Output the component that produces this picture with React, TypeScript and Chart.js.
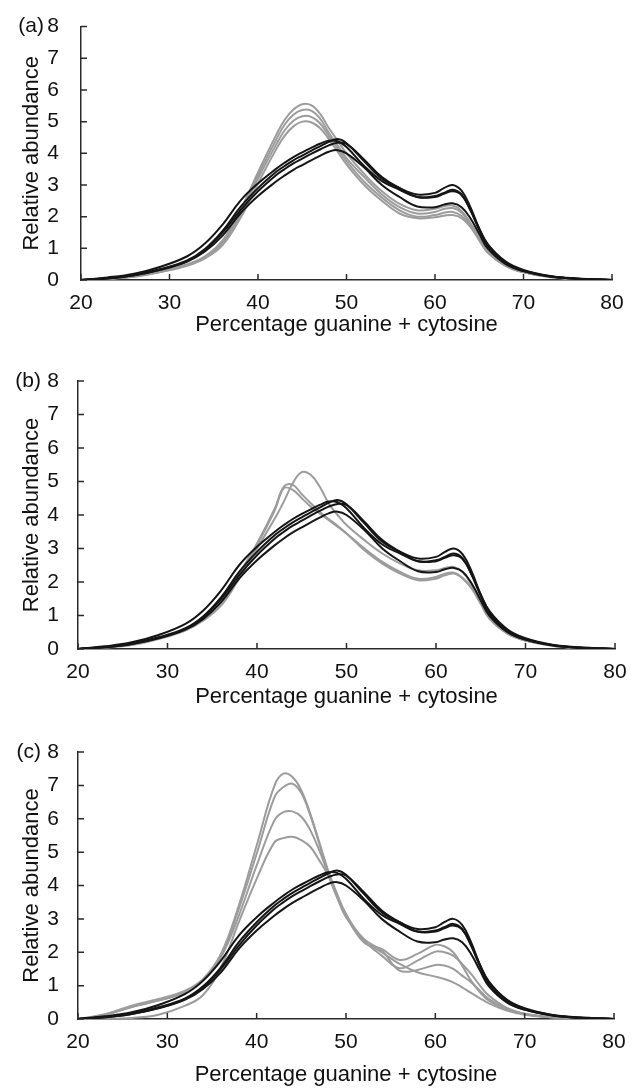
import React, { useEffect, useRef } from 'react';
import { Chart, registerables } from 'chart.js';

Chart.register(...registerables);

// % G+C sampling positions shared by all profiles
const gcPercent = [20, 23, 26, 29, 32, 34, 36, 38, 40, 42, 43, 44, 45, 46, 47, 48, 49, 50, 52, 54, 56, 58, 60, 61, 62, 63, 64, 65, 66, 68, 70, 73, 76, 80];

// Control profiles (black), same in all panels
const control1 = [0, 0.06, 0.17, 0.35, 0.62, 0.98, 1.55, 2.3, 2.9, 3.4, 3.6, 3.78, 3.93, 4.08, 4.22, 4.36, 4.45, 4.32, 3.75, 3.2, 2.9, 2.7, 2.75, 2.9, 3.0, 2.82, 2.3, 1.62, 1.1, 0.55, 0.3, 0.12, 0.04, 0];
const control2 = [0, 0.08, 0.2, 0.42, 0.75, 1.15, 1.75, 2.5, 3.05, 3.5, 3.7, 3.88, 4.03, 4.17, 4.3, 4.4, 4.38, 4.2, 3.6, 3.12, 2.85, 2.62, 2.65, 2.75, 2.85, 2.7, 2.2, 1.58, 1.05, 0.52, 0.28, 0.11, 0.04, 0];
const control3 = [0, 0.05, 0.15, 0.33, 0.6, 0.95, 1.5, 2.2, 2.8, 3.3, 3.5, 3.68, 3.83, 3.98, 4.12, 4.25, 4.33, 4.3, 3.8, 3.25, 2.9, 2.62, 2.62, 2.72, 2.8, 2.68, 2.22, 1.62, 1.12, 0.58, 0.32, 0.13, 0.05, 0];
const control4 = [0, 0.05, 0.15, 0.32, 0.58, 0.9, 1.4, 2.1, 2.65, 3.1, 3.3, 3.48, 3.63, 3.78, 3.92, 4.05, 4.1, 4.0, 3.55, 3.0, 2.62, 2.32, 2.3, 2.38, 2.42, 2.3, 1.95, 1.45, 0.98, 0.5, 0.28, 0.11, 0.04, 0];

// Panel (a) treatment profiles (grey)
const dietA1 = [0, 0.04, 0.12, 0.28, 0.5, 0.75, 1.25, 2.2, 3.4, 4.55, 5.05, 5.38, 5.55, 5.52, 5.25, 4.8, 4.4, 4.0, 3.35, 2.8, 2.4, 2.2, 2.25, 2.33, 2.35, 2.18, 1.8, 1.32, 0.9, 0.47, 0.26, 0.1, 0.03, 0];
const dietA2 = [0, 0.04, 0.12, 0.27, 0.48, 0.72, 1.2, 2.1, 3.3, 4.4, 4.9, 5.22, 5.37, 5.35, 5.1, 4.65, 4.25, 3.85, 3.25, 2.7, 2.3, 2.1, 2.15, 2.24, 2.27, 2.12, 1.76, 1.3, 0.88, 0.46, 0.25, 0.1, 0.03, 0];
const dietA3 = [0, 0.04, 0.11, 0.26, 0.47, 0.7, 1.15, 2.05, 3.2, 4.25, 4.72, 5.03, 5.17, 5.15, 4.95, 4.55, 4.15, 3.75, 3.1, 2.6, 2.2, 2.0, 2.05, 2.12, 2.15, 2.02, 1.72, 1.28, 0.86, 0.45, 0.25, 0.1, 0.03, 0];
const dietA4 = [0, 0.03, 0.1, 0.25, 0.45, 0.68, 1.1, 1.95, 3.05, 4.1, 4.55, 4.85, 5.0, 4.98, 4.8, 4.45, 4.05, 3.65, 3.0, 2.5, 2.1, 1.95, 1.98, 2.03, 2.05, 1.95, 1.68, 1.25, 0.85, 0.44, 0.24, 0.09, 0.03, 0];

// Panel (b) treatment profiles (grey)
const dietB1 = [0, 0.04, 0.12, 0.3, 0.55, 0.85, 1.3, 2.1, 3.0, 3.9, 4.4, 4.95, 5.28, 5.2, 4.85, 4.35, 4.0, 3.7, 3.25, 2.85, 2.55, 2.35, 2.35, 2.42, 2.45, 2.3, 1.9, 1.4, 0.95, 0.48, 0.26, 0.1, 0.03, 0];
const dietB2 = [0, 0.05, 0.15, 0.33, 0.6, 0.95, 1.45, 2.25, 3.15, 4.2, 4.85, 4.9, 4.62, 4.35, 4.1, 3.88, 3.68, 3.45, 2.95, 2.55, 2.25, 2.05, 2.1, 2.2, 2.25, 2.1, 1.8, 1.35, 0.9, 0.46, 0.25, 0.1, 0.03, 0];
const dietB3 = [0, 0.05, 0.14, 0.32, 0.58, 0.92, 1.4, 2.2, 3.1, 4.15, 4.8, 4.75, 4.5, 4.25, 4.05, 3.85, 3.65, 3.45, 3.0, 2.6, 2.3, 2.1, 2.15, 2.25, 2.28, 2.12, 1.82, 1.36, 0.9, 0.46, 0.25, 0.1, 0.03, 0];

// Panel (c) treatment profiles (grey)
const dietC1 = [0, 0.14, 0.4, 0.6, 0.85, 1.2, 1.95, 3.4, 5.2, 7.0, 7.35, 7.25, 6.85, 6.15, 5.3, 4.45, 3.75, 3.15, 2.35, 2.0, 1.65, 1.4, 1.27, 1.2, 1.1, 0.95, 0.78, 0.62, 0.47, 0.25, 0.13, 0.05, 0.02, 0];
const dietC2 = [0, 0.12, 0.36, 0.56, 0.8, 1.15, 1.9, 3.3, 4.95, 6.65, 6.95, 7.05, 6.77, 6.1, 5.26, 4.4, 3.7, 3.1, 2.4, 2.05, 1.45, 1.47, 1.62, 1.6, 1.5, 1.3, 1.1, 0.85, 0.6, 0.3, 0.15, 0.05, 0.02, 0];
const dietC3 = [0, 0.12, 0.36, 0.55, 0.8, 1.15, 1.85, 3.1, 4.6, 5.96, 6.2, 6.22, 6.06, 5.66, 5.06, 4.35, 3.65, 3.05, 2.35, 1.9, 1.52, 1.75, 2.02, 2.0, 1.9, 1.65, 1.35, 1.0, 0.7, 0.33, 0.16, 0.06, 0.02, 0];
const dietC4 = [0, 0, 0.03, 0.13, 0.4, 0.72, 1.55, 2.9, 4.2, 5.3, 5.42, 5.46, 5.36, 5.16, 4.76, 4.3, 3.65, 3.1, 2.3, 2.1, 1.77, 1.95, 2.22, 2.18, 2.0, 1.6, 1.15, 0.8, 0.55, 0.3, 0.15, 0.05, 0.02, 0];

const xTickValues = [20, 30, 40, 50, 60, 70, 80];
const yTickValues = [0, 1, 2, 3, 4, 5, 6, 7, 8];
const xAxisTitle = 'Percentage guanine + cytosine';
const yAxisTitle = 'Relative abundance';
const controls = [control1, control2, control3, control4];

const FONT = '"Liberation Sans", Arial, Helvetica, sans-serif';
const BLACK = '#151515';
const GREY = '#9c9c9c';

type PanelCfg = {
  label: string;
  grey: number[][];
  canvasTop: number;
  canvasH: number;
  padTop: number;
  left: number;
  right: number;
  xAxisH: number;
  yTickPad: number;
  xTitlePadBottom: number;
};

const panels: PanelCfg[] = [
  { label: '(a)', grey: [dietA1, dietA2, dietA3, dietA4], canvasTop: 0, canvasH: 345, padTop: 20, left: 81, right: 612, xAxisH: 65, yTickPad: 14, xTitlePadBottom: 7 },
  { label: '(b)', grey: [dietB1, dietB2, dietB3], canvasTop: 345, canvasH: 365, padTop: 36, left: 78, right: 615, xAxisH: 61, yTickPad: 11, xTitlePadBottom: 0 },
  { label: '(c)', grey: [dietC1, dietC2, dietC3, dietC4], canvasTop: 710, canvasH: 378, padTop: 42, left: 78, right: 614, xAxisH: 69, yTickPad: 11, xTitlePadBottom: 0 },
];

const insideTicks = {
  id: 'insideTicks',
  afterDraw(chart: any, _args: any, opts: any) {
    const { ctx, chartArea, scales } = chart;
    const x = scales.x;
    const y = scales.y;
    ctx.save();
    ctx.strokeStyle = '#2a2a2a';
    ctx.lineWidth = 1.5;
    ctx.beginPath();
    for (const v of yTickValues) {
      const py = y.getPixelForValue(v);
      ctx.moveTo(chartArea.left, py);
      ctx.lineTo(chartArea.left + 6, py);
    }
    for (const v of xTickValues) {
      const px = x.getPixelForValue(v);
      ctx.moveTo(px, chartArea.bottom);
      ctx.lineTo(px, chartArea.bottom - 6);
    }
    ctx.stroke();
    ctx.fillStyle = '#111';
    ctx.font = `21px ${FONT}`;
    ctx.textAlign = 'right';
    ctx.textBaseline = 'middle';
    ctx.fillText(opts.label, chartArea.left - 37, chartArea.top);
    ctx.restore();
  },
};

function toPoints(values: number[]) {
  return gcPercent.map((g, i) => ({ x: g, y: values[i] }));
}

function PanelChart({ cfg }: { cfg: PanelCfg }) {
  const ref = useRef<HTMLCanvasElement | null>(null);
  useEffect(() => {
    if (!ref.current) return;
    const datasets: any[] = [];
    controls.forEach((c, i) => {
      datasets.push({ label: `control ${i + 1}`, data: toPoints(c), borderColor: BLACK, borderWidth: 2 });
    });
    cfg.grey.forEach((g, i) => {
      datasets.push({ label: `diet ${i + 1}`, data: toPoints(g), borderColor: GREY, borderWidth: 2 });
    });
    const chart = new Chart(ref.current, {
      type: 'line',
      data: { datasets },
      plugins: [insideTicks as any],
      options: {
        responsive: false,
        animation: false,
        devicePixelRatio: 1,
        layout: { padding: { top: cfg.padTop, right: 641 - cfg.right, bottom: 0, left: 0 } },
        elements: { point: { radius: 0 }, line: { tension: 0.4, fill: false } },
        plugins: {
          legend: { display: false },
          tooltip: { enabled: false },
          insideTicks: { label: cfg.label },
        } as any,
        scales: {
          x: {
            type: 'linear',
            min: 20,
            max: 80,
            grid: { display: false },
            border: { display: true, color: '#2a2a2a', width: 1.5 },
            ticks: { stepSize: 10, padding: 3, color: '#111', font: { family: FONT, size: 21 }, maxRotation: 0, autoSkip: false },
            title: { display: true, text: xAxisTitle, color: '#111', font: { family: FONT, size: 22 }, padding: { top: 0, bottom: cfg.xTitlePadBottom } },
            afterFit: (s: any) => { s.height = cfg.xAxisH; },
          },
          y: {
            type: 'linear',
            min: 0,
            max: 8,
            grid: { display: false },
            border: { display: true, color: '#2a2a2a', width: 1.5 },
            ticks: { stepSize: 1, padding: cfg.yTickPad, color: '#111', font: { family: FONT, size: 21 } },
            title: { display: true, text: yAxisTitle, color: '#111', font: { family: FONT, size: 22 }, padding: { top: 19, bottom: 0 } },
            afterFit: (s: any) => { s.width = cfg.left; },
          },
        },
      } as any,
    });
    return () => chart.destroy();
  }, [cfg]);
  return (
    <canvas
      ref={ref}
      width={641}
      height={cfg.canvasH}
      style={{ position: 'absolute', left: 0, top: cfg.canvasTop, width: 641, height: cfg.canvasH, display: 'block' }}
    />
  );
}

export default function App() {
  return (
    <div style={{ position: 'absolute', left: 0, top: 0, width: 641, height: 1088, background: '#fff' }}>
      {panels.map((p) => (
        <PanelChart key={p.label} cfg={p} />
      ))}
    </div>
  );
}
